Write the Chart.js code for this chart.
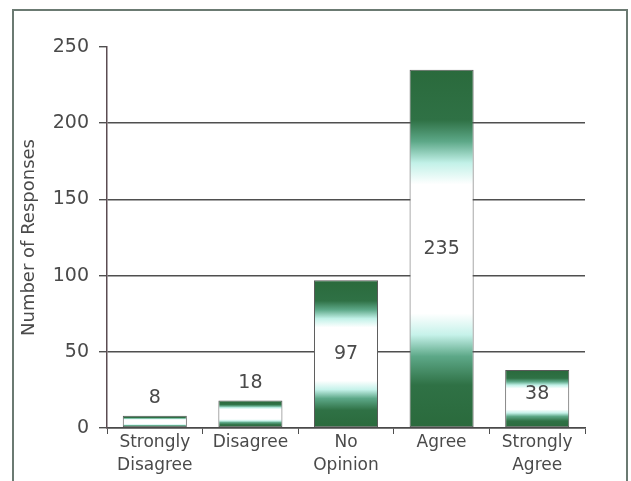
<!DOCTYPE html>
<html>
<head>
<meta charset="utf-8">
<script src="https://cdn.jsdelivr.net/npm/chart.js@4/dist/chart.umd.min.js"></script>
<style>
  body { margin: 0; background: #fff; }
  #wrap { position: relative; width: 631px; height: 481px; }
  #frame { position: absolute; left: 12px; top: 9px; width: 612px; height: 480px;
           border: 2px solid #6b7a72; border-bottom: none; }
  canvas { position: absolute; left: 0; top: 0; }
</style>
</head>
<body>
<div id="wrap">
  <div id="frame"></div>
  <canvas id="grafico" width="631" height="481"></canvas>
</div>
<script>
// categorias e respostas
const categorias = [['Strongly', 'Disagree'], 'Disagree', ['No', 'Opinion'], 'Agree', ['Strongly', 'Agree']];
const respostas = [8, 18, 97, 235, 38];
const marcasY = [0, 50, 100, 150, 200, 250];

const corTexto = '#4a4a4a';
const corLinha = '#4f4f4f';

// gradiente verde-branco-verde de cada barra
function corBarra(context) {
    const chart = context.chart;
    if (!chart.chartArea) return '#2e6b3e';
    const y = chart.scales.y;
    const topo = y.getPixelForValue(context.raw);
    const base = y.getPixelForValue(0);
    if (!isFinite(topo) || base - topo < 1) return '#2e6b3e';
    const g = chart.ctx.createLinearGradient(0, topo, 0, base);
    g.addColorStop(0, '#2a6a3c');
    g.addColorStop(0.14, '#2f7145');
    g.addColorStop(0.2, '#5da888');
    g.addColorStop(0.26, '#c2f1e8');
    g.addColorStop(0.32, '#ffffff');
    g.addColorStop(0.68, '#ffffff');
    g.addColorStop(0.74, '#c6f2ea');
    g.addColorStop(0.8, '#5da888');
    g.addColorStop(0.88, '#2f7145');
    g.addColorStop(1, '#2a6a3c');
    return g;
}

// rótulos de valor: acima das barras pequenas, no meio das grandes
const rotulos = {
    id: 'rotulos',
    afterDatasetsDraw(chart) {
        const ctx = chart.ctx;
        const meta = chart.getDatasetMeta(0);
        ctx.save();
        ctx.font = '19px "DejaVu Sans"';
        ctx.fillStyle = corTexto;
        ctx.textAlign = 'center';
        ctx.textBaseline = 'middle';
        meta.data.forEach((bar, i) => {
            const v = respostas[i];
            const yy = v < 30 ? bar.y - 18 : (bar.y + bar.base) / 2 - (v < 50 ? 5 : 0);
            ctx.fillText(String(v), bar.x, yy);
        });
        ctx.restore();
    }
};

new Chart(document.getElementById('grafico'), {
    type: 'bar',
    data: {
        labels: categorias,
        datasets: [{
            data: respostas,
            backgroundColor: corBarra,
            borderColor: '#5a5a5a',
            borderWidth: 1,
            borderSkipped: false,
            barPercentage: 0.67,
            categoryPercentage: 1
        }]
    },
    options: {
        responsive: false,
        animation: false,
        layout: { padding: { left: 0, top: 47, right: 46, bottom: 0 } },
        plugins: { legend: { display: false }, tooltip: { enabled: false } },
        scales: {
            x: {
                afterFit: s => { s.height = 53; },
                grid: { drawOnChartArea: false, color: corLinha, tickLength: 6 },
                border: { color: '#4a4a4a', width: 1.5 },
                ticks: { color: corTexto, font: { family: 'DejaVu Sans', size: 17, lineHeight: 1.35 }, padding: -3, maxRotation: 0 }
            },
            y: {
                min: 0,
                max: 250,
                afterFit: s => { s.width = 107; },
                afterBuildTicks: s => { s.ticks = marcasY.map(v => ({ value: v })); },
                grid: {
                    color: c => (c.tick && c.tick.value === 250) ? 'rgba(0,0,0,0)' : corLinha,
                    tickColor: corLinha,
                    tickLength: 8,
                    lineWidth: 1.4
                },
                border: { color: '#5b4c52', width: 1.5 },
                ticks: { color: corTexto, font: { family: 'DejaVu Sans', size: 19 }, padding: 10 },
                title: {
                    display: true,
                    text: 'Number of Responses',
                    color: corTexto,
                    font: { family: 'DejaVu Sans', size: 18 },
                    padding: { top: 19, bottom: 0 }
                }
            }
        }
    },
    plugins: [rotulos]
});
</script>
</body>
</html>
